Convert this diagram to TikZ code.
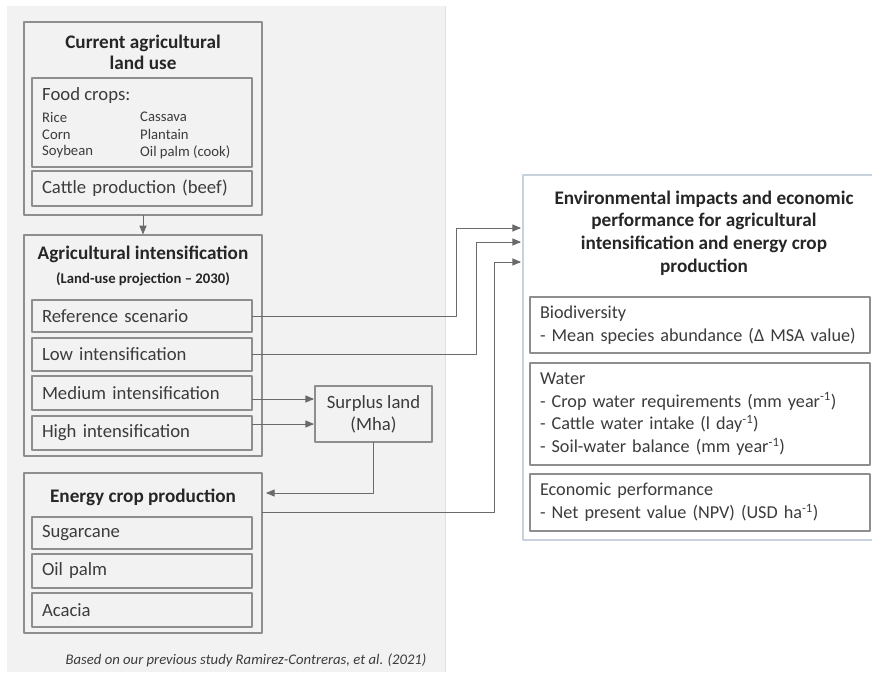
\documentclass[tikz,border=0pt]{standalone}
\usepackage{fontspec}
\setmainfont{Carlito}
\usetikzlibrary{arrows}
\definecolor{panelgray}{HTML}{F2F2F2}
\definecolor{boxgray}{HTML}{8E8E8E}
\definecolor{linegray}{HTML}{6A6A6A}
\definecolor{envblue}{HTML}{C9D1DD}
\definecolor{txtgray}{HTML}{3C3C3C}

\begin{document}
\begin{tikzpicture}[x=1pt,y=-1pt,line cap=round,line join=round,>=triangle 45,
  outerbox/.style={draw=boxgray,line width=1.3pt,fill=panelgray},
  itembox/.style={draw=boxgray,line width=1.3pt,fill=panelgray,minimum width=220pt,
    text width=200pt,inner xsep=10pt,align=left,text=txtgray,font=\fontsize{18.7}{21}\selectfont},
  envitem/.style={draw=boxgray,line width=1.3pt,fill=white,minimum width=340pt,
    text width=320pt,inner xsep=10pt,align=left,text=txtgray,font=\fontsize{18.2}{22.7}\selectfont},
  boxtitle/.style={align=center,text=black!85,font=\bfseries\fontsize{19.2}{21}\selectfont},
  smalltxt/.style={anchor=west,inner sep=0pt,text=txtgray,font=\fontsize{14.7}{17}\selectfont},
  conn/.style={draw=linegray,line width=1pt}]
\clip (0,0) rectangle (872,672);
\useasboundingbox (0,0) rectangle (872,672);
% grey panel on the left
\fill[panelgray] (7,6) rectangle (445,672);
\draw[black!12,line width=0.6pt] (445,6) -- (445,672);

% current land use
\node[outerbox,minimum width=238pt,minimum height=193pt] (cur) at (143,118.5) {};
\node[boxtitle] (curtitle) at (143,52.5) {Current agricultural\\land use};
\node[itembox,minimum height=89pt] (food) at (142,122.5) {};
\node[anchor=west,inner sep=0pt,text=txtgray,font=\fontsize{18.7}{21}\selectfont] (foodlbl) at (42,96) {Food crops:};
\node[smalltxt] (rice) at (42,117) {Rice};
\node[smalltxt] (corn) at (42,134.5) {Corn};
\node[smalltxt] (soy) at (42,152) {Soybean};
\node[smalltxt] (cassava) at (140,117) {Cassava};
\node[smalltxt] (plantain) at (140,134.5) {Plantain};
\node[smalltxt] (oilcook) at (140,152) {Oil palm (cook)};
\node[itembox,minimum height=35pt] (cattle) at (142,188.5) {Cattle production (beef)};

% intensification
\node[outerbox,minimum width=238pt,minimum height=221pt] (agri) at (143,345.5) {};
\node[boxtitle] (agrititle) at (143,254) {Agricultural intensification};
\node[boxtitle,font=\bfseries\fontsize{14.7}{17}\selectfont] (agrisub) at (143,279) {(Land-use projection – 2030)};
\node[itembox,minimum height=32pt] (ref) at (142,316) {Reference scenario};
\node[itembox,minimum height=33pt] (low) at (142,354.5) {Low intensification};
\node[itembox,minimum height=34pt] (med) at (142,393) {Medium intensification};
\node[itembox,minimum height=34pt] (high) at (142,433) {High intensification};

\node[draw=boxgray,line width=1.3pt,fill=panelgray,minimum width=117pt,minimum height=56pt,
  align=center,text=txtgray,font=\fontsize{18.7}{22}\selectfont] (surplus) at (373.5,414) {Surplus land\\(Mha)};

% energy crops
\node[outerbox,minimum width=238pt,minimum height=160pt] (energy) at (143,553) {};
\node[boxtitle] (entitle) at (143,497) {Energy crop production};
\node[itembox,minimum height=32pt] (sugar) at (142,533) {Sugarcane};
\node[itembox,minimum height=34pt] (palm) at (142,571) {Oil palm};
\node[itembox,minimum height=34pt] (acacia) at (142,610) {Acacia};

\node[text=txtgray,font=\itshape\fontsize{14.7}{17}\selectfont] (note) at (246,660)
  {Based on our previous study Ramirez-Contreras, et al. (2021)};

% impacts
\node[draw=envblue,line width=1.3pt,fill=white,minimum width=362pt,minimum height=365pt] (env) at (704,357.5) {};
\node[boxtitle,font=\bfseries\fontsize{19.2}{22.7}\selectfont] (envtitle) at (704,233)
  {Environmental impacts and economic\\performance for agricultural\\intensification and energy crop\\production};
\node[envitem,minimum height=56pt] (bio) at (700,325)
  {Biodiversity\\- Mean species abundance (Δ MSA value)};
\node[envitem,minimum height=102pt] (water) at (700,414)
  {Water\\- Crop water requirements (mm year\textsuperscript{-1})\\- Cattle water intake (l day\textsuperscript{-1})\\- Soil-water balance (mm year\textsuperscript{-1})};
\node[envitem,minimum height=57pt] (econ) at (700,502.5)
  {Economic performance\\- Net present value (NPV) (USD ha\textsuperscript{-1})};

% connectors
\coordinate (in1) at (521,228);
\coordinate (in2) at (521,242);
\coordinate (in3) at (521,262);
\coordinate (bend1) at (456,228);
\coordinate (bend2) at (476,242);
\coordinate (bend3) at (494,262);
\coordinate (sin1) at (314,399);
\coordinate (sin2) at (314,424);
\coordinate (enout) at (262,512);
\coordinate (enin) at (266,493);

\draw[conn,->] (cur.south) -- (agri.north);
\draw[conn,->] (ref.east) -| (bend1) -- (in1);
\draw[conn,->] (low.east) -| (bend2) -- (in2);
\draw[conn,->] (enout) -| (bend3) -- (in3);
\draw[conn,->] (med.east |- sin1) -- (sin1);
\draw[conn,->] (high.east |- sin2) -- (sin2);
\draw[conn,->] (surplus.south) |- (enin);
\end{tikzpicture}
\end{document}
